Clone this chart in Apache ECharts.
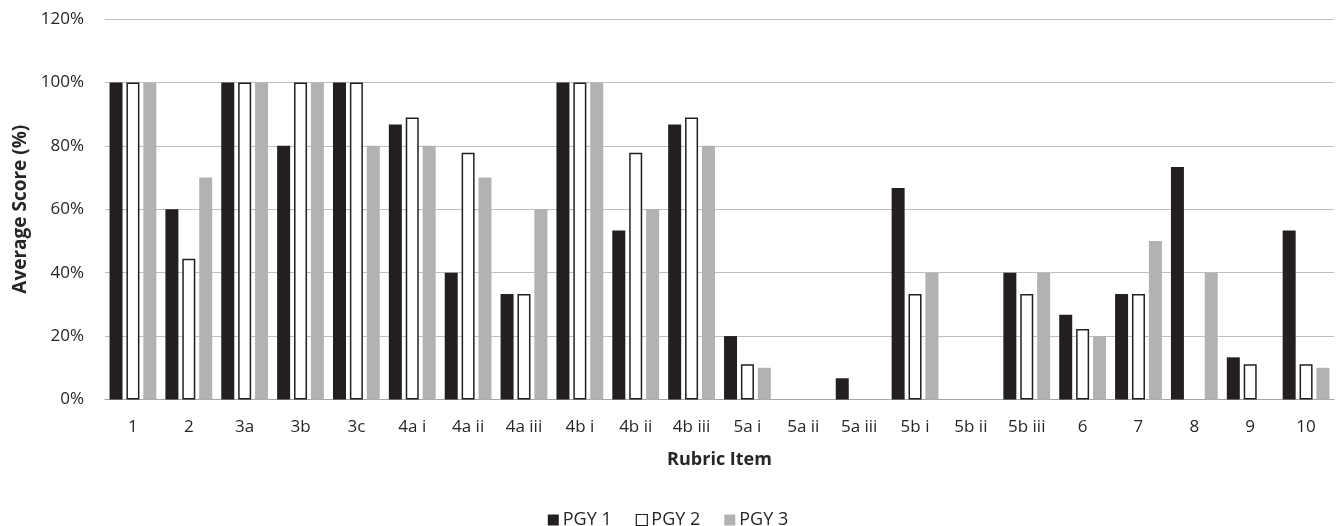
<!DOCTYPE html>
<html>
<head>
<meta charset="utf-8">
<script src="https://cdn.jsdelivr.net/npm/echarts@6/dist/echarts.min.js"></script>
<style>
html,body{margin:0;padding:0;background:#fff;}
#chart{width:1336px;height:526px;}
</style>
</head>
<body>
<div id="chart"></div>
<script>
const categories = ['1','2','3a','3b','3c','4a i','4a ii','4a iii','4b i','4b ii','4b iii','5a i','5a ii','5a iii','5b i','5b ii','5b iii','6','7','8','9','10'];
const pgy1 = [100, 60, 100, 80, 100, 86.7, 40, 33.3, 100, 53.3, 86.7, 20, 0, 6.7, 66.7, 0, 40, 26.7, 33.3, 73.3, 13.3, 53.3];
const pgy2 = [100, 44.4, 100, 100, 100, 88.9, 77.8, 33.3, 100, 77.8, 88.9, 11.1, 0, 0, 33.3, 0, 33.3, 22.2, 33.3, 0, 11.1, 11.1];
const pgy3 = [100, 70, 100, 100, 80, 80, 70, 60, 100, 60, 80, 10, 0, 0, 40, 0, 40, 20, 50, 40, 0, 10];
const yTicks = [0, 20, 40, 60, 80, 100, 120];

const FONT = "'Open Sans', 'Liberation Sans', sans-serif";
const TXT = '#262626';
const chart = echarts.init(document.getElementById('chart'), null, {renderer: 'canvas'});

function mk(arr) {
  return arr.map(v => v === 0 ? {value: v, itemStyle: {borderWidth: 0}} : v);
}

chart.setOption({
  animation: false,
  backgroundColor: '#fff',
  grid: {left: 105, right: 2, top: 19, bottom: 126.5, containLabel: false},
  legend: {
    top: 506,
    left: 'center',
    itemWidth: 11,
    itemHeight: 11,
    itemGap: 24,
    textStyle: {fontFamily: FONT, fontSize: 18, color: TXT, padding: [0, 0, 0, -1]},
    data: [
      {name: 'PGY 1', icon: 'rect', itemStyle: {color: '#231f20', borderWidth: 0}},
      {name: 'PGY 2', icon: 'rect', itemStyle: {color: '#fff', borderColor: '#231f20', borderWidth: 1.2}},
      {name: 'PGY 3', icon: 'rect', itemStyle: {color: '#b1b2b4', borderWidth: 0}}
    ]
  },
  xAxis: {
    type: 'category',
    data: categories,
    name: 'Rubric Item',
    nameLocation: 'middle',
    nameGap: 51,
    nameTextStyle: {fontFamily: FONT, fontSize: 18, fontWeight: 'bold', color: TXT},
    axisLine: {lineStyle: {color: '#a6a6a6', width: 1.2}},
    axisTick: {show: false},
    axisLabel: {fontFamily: FONT, fontSize: 17, color: TXT, margin: 19, interval: 0}
  },
  yAxis: {
    type: 'value',
    min: 0,
    max: 120,
    interval: 20,
    name: 'Average Score (%)',
    nameLocation: 'middle',
    nameGap: 74,
    nameRotate: 90,
    nameTextStyle: {fontFamily: FONT, fontSize: 19, fontWeight: 'bold', color: TXT},
    axisLine: {show: false},
    axisTick: {show: false},
    axisLabel: {fontFamily: FONT, fontSize: 17, color: TXT, margin: 21, formatter: v => yTicks.includes(v) ? v + '%' : ''},
    splitLine: {lineStyle: {color: '#bfbfbf', width: 1.2}}
  },
  series: [
    {name: 'PGY 1', type: 'bar', data: mk(pgy1), barWidth: 13, barGap: '30%',
     itemStyle: {color: '#231f20'}},
    {name: 'PGY 2', type: 'bar', data: mk(pgy2), barWidth: 13, barGap: '30%',
     itemStyle: {color: '#ffffff', borderColor: '#231f20', borderWidth: 1.5}},
    {name: 'PGY 3', type: 'bar', data: mk(pgy3), barWidth: 13, barGap: '30%',
     itemStyle: {color: '#b1b2b4'}}
  ]
});
</script>
</body>
</html>
